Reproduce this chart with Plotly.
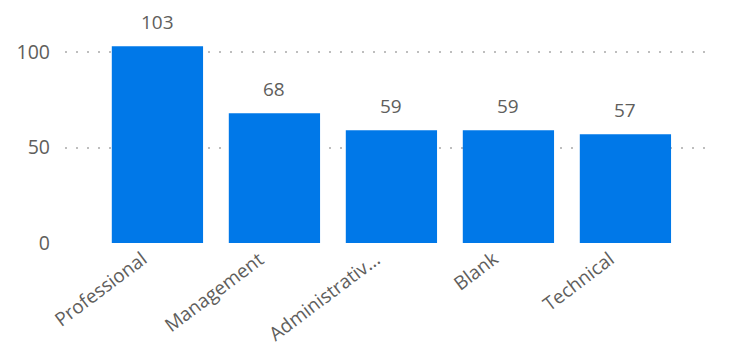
import plotly.graph_objects as go

# Headcount by job category
categories = ["Professional", "Management", "Administrativ...", "Blank", "Technical"]
counts = [103, 68, 59, 59, 57]
y_ticks = [0, 50, 100]

BAR_COLOR = "#0078E8"
TEXT_COLOR = "#605E5C"
FONT = "Open Sans, Noto Sans, sans-serif"

fig = go.Figure(
    go.Bar(
        x=categories,
        y=counts,
        marker=dict(color=BAR_COLOR, line=dict(width=0)),
        width=0.78,
        hoverinfo="x+y",
    )
)

# value labels floating above each bar
for cat, val in zip(categories, counts):
    fig.add_annotation(
        x=cat,
        y=val,
        text=str(val),
        showarrow=False,
        yanchor="bottom",
        yshift=9,
        font=dict(family=FONT, size=19, color=TEXT_COLOR),
    )

# slanted category labels under the axis, ending just left of each bar centre
for cat in categories:
    fig.add_annotation(
        x=cat,
        y=0,
        text=cat,
        showarrow=False,
        textangle=-37,
        xanchor="right",
        yanchor="top",
        xshift=-3,
        yshift=0,
        font=dict(family=FONT, size=19, color=TEXT_COLOR),
    )

fig.update_layout(
    width=729,
    height=346,
    margin=dict(l=65, r=17, t=20, b=103),
    paper_bgcolor="white",
    plot_bgcolor="white",
    showlegend=False,
    font=dict(family=FONT, color=TEXT_COLOR),
    xaxis=dict(
        range=[-0.79, 4.74],
        showticklabels=False,
        showgrid=False,
        showline=False,
        zeroline=False,
        ticks="",
        automargin=False,
    ),
    yaxis=dict(
        range=[0, 116.8],
        tickvals=y_ticks,
        tickfont=dict(family=FONT, size=19.5, color=TEXT_COLOR),
        showgrid=True,
        gridcolor="#BEBEBE",
        gridwidth=1.5,
        griddash="2px,9px",
        zeroline=False,
        showline=False,
        ticks="",
        automargin=False,
        ticklabelstandoff=14,
    ),
)

fig.write_html("out.html")
